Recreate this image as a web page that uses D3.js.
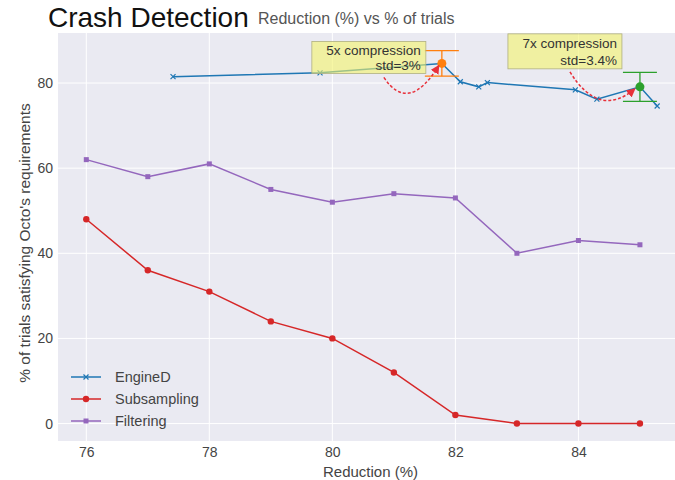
<!DOCTYPE html>
<html><head><meta charset="utf-8">
<script src="https://cdn.jsdelivr.net/npm/d3@7"></script>
<style>body{margin:0;background:#fff}svg{display:block;font-family:"Liberation Sans",Arial,sans-serif}</style>
</head><body><svg id="c" width="675" height="480"></svg>
<script>
const xTicks = [76, 78, 80, 82, 84];
const yTicks = [0, 20, 40, 60, 80];
const reduction = [76, 77, 78, 79, 80, 81, 82, 83, 84, 85];
const subsampling = [48, 36, 31, 24, 20, 12, 2, 0, 0, 0];
const filtering = [62, 58, 61, 55, 52, 54, 53, 40, 43, 42];
const engineDX = [77.41, 79.8, 81.78, 82.08, 82.38, 82.52, 83.95, 84.30, 85.0, 85.28];
const engineDY = [81.5, 82.4, 84.6, 80.3, 79.1, 80.1, 78.4, 76.2, 79.1, 74.6];
const annotLines = [["5x compression", "std=3%"], ["7x compression", "std=3.4%"]];
const annotX = [81.78, 85.0];
const annotY = [84.6, 79.1];
const annotStd = [3, 3.4];
const seriesNames = ["EngineD", "Subsampling", "Filtering"];

const C = {blue:"#1f77b4", red:"#d62728", purple:"#9467bd", orange:"#ff7f0e", green:"#2ca02c"};
const svg = d3.select("#c");
const L = 58, R = 675, T = 33, B = 441;
const x = d3.scaleLinear().domain([75.54, 85.57]).range([L, R]);
const y = d3.scaleLinear().domain([-4.1, 91.75]).range([B, T]);

svg.append("rect").attr("x", L).attr("y", T).attr("width", R - L).attr("height", B - T).attr("fill", "#eaeaf2");
const g = svg.append("g");
g.selectAll(".gx").data(xTicks).join("line").attr("x1", d => x(d)).attr("x2", d => x(d)).attr("y1", T).attr("y2", B).attr("stroke", "#fff").attr("stroke-width", 1);
g.selectAll(".gy").data(yTicks).join("line").attr("y1", d => y(d)).attr("y2", d => y(d)).attr("x1", L).attr("x2", R).attr("stroke", "#fff").attr("stroke-width", 1);

// axes
const xa = svg.append("g").attr("transform", `translate(0,${B})`).call(d3.axisBottom(x).tickValues(xTicks).tickSize(0).tickPadding(6));
const ya = svg.append("g").attr("transform", `translate(${L},0)`).call(d3.axisLeft(y).tickValues(yTicks).tickSize(0).tickPadding(5));
[xa, ya].forEach(a => { a.select(".domain").remove(); a.selectAll("text").attr("font-size", 14).attr("fill", "#444").attr("font-family", "Liberation Sans, Arial, sans-serif"); });

svg.append("text").attr("x", (L + R) / 2 + 4).attr("y", 477).attr("text-anchor", "middle").attr("font-size", 15).attr("fill", "#444").text("Reduction (%)");
svg.append("text").attr("transform", `translate(30,243) rotate(-90)`).attr("text-anchor", "middle").attr("font-size", 15.5).attr("fill", "#444").text("% of trials satisfying Octo's requirements");

svg.append("text").attr("x", 48).attr("y", 27).attr("font-size", 28).attr("fill", "#111").text("Crash Detection");
svg.append("text").attr("x", 258).attr("y", 24).attr("font-size", 16).attr("fill", "#555").text("Reduction (%) vs % of trials");

const line = d3.line();
// Filtering
g.append("path").attr("d", line(reduction.map((r, i) => [x(r), y(filtering[i])]))).attr("fill", "none").attr("stroke", C.purple).attr("stroke-width", 1.5);
g.selectAll(".fm").data(reduction).join("rect").attr("x", (d) => x(d) - 2.5).attr("y", (d, i) => y(filtering[i]) - 2.5).attr("width", 5).attr("height", 5).attr("fill", C.purple);
// Subsampling
g.append("path").attr("d", line(reduction.map((r, i) => [x(r), y(subsampling[i])]))).attr("fill", "none").attr("stroke", C.red).attr("stroke-width", 1.5);
g.selectAll(".sm").data(reduction).join("circle").attr("cx", d => x(d)).attr("cy", (d, i) => y(subsampling[i])).attr("r", 3.2).attr("fill", C.red);
// EngineD
g.append("path").attr("d", line(engineDX.map((v, i) => [x(v), y(engineDY[i])]))).attr("fill", "none").attr("stroke", C.blue).attr("stroke-width", 1.5);
function xMark(sel, cx, cy, s, col) {
  sel.append("path").attr("d", `M${cx - s},${cy - s}L${cx + s},${cy + s}M${cx - s},${cy + s}L${cx + s},${cy - s}`).attr("stroke", col).attr("stroke-width", 1.2);
}
engineDX.forEach((v, i) => xMark(g, x(v), y(engineDY[i]), 2.5, C.blue));

// error bars + highlighted points
const aCol = [C.orange, C.green];
annotX.forEach((v, i) => {
  const px = x(v), top = y(annotY[i] + annotStd[i]), bot = y(annotY[i] - annotStd[i]);
  g.append("line").attr("x1", px).attr("x2", px).attr("y1", top).attr("y2", bot).attr("stroke", aCol[i]).attr("stroke-width", 1.3);
  [top, bot].forEach(yy => g.append("line").attr("x1", px - 17).attr("x2", px + 17).attr("y1", yy).attr("y2", yy).attr("stroke", aCol[i]).attr("stroke-width", 1.3));
  g.append("circle").attr("cx", px).attr("cy", y(annotY[i])).attr("r", 4.5).attr("fill", aCol[i]);
});

// annotation arrows & boxes (layout offsets relative to the annotated point)
const boxOff = [{l: -130, r: -16, t: -22, b: 10, ty1: -8.5, ty2: 7}, {l: -132, r: -18, t: -53, b: -18, ty1: -38.5, ty2: -22}];
const arrOff = [{sx: -58, sy: 14, cx: -33, cy: 51, ex: -3, ey: 2}, {sx: -70, sy: -15, cx: -41, cy: 32, ex: -5, ey: 2}];
svg.append("defs").append("marker").attr("id", "ah").attr("viewBox", "0 0 10 10").attr("refX", 9).attr("refY", 5)
  .attr("markerWidth", 6).attr("markerHeight", 6).attr("orient", "auto")
  .append("path").attr("d", "M0,0L10,5L0,10z").attr("fill", "#e8303a");
annotX.forEach((v, i) => {
  const px = x(v), py = y(annotY[i]), a = arrOff[i];
  g.append("path").attr("d", `M${px + a.sx},${py + a.sy}Q${px + a.cx},${py + a.cy} ${px + a.ex},${py + a.ey}`)
    .attr("fill", "none").attr("stroke", "#e8303a").attr("stroke-width", 1.5).attr("stroke-dasharray", "3,2").attr("marker-end", "url(#ah)");
});
annotX.forEach((v, i) => {
  const px = x(v), py = y(annotY[i]), o = boxOff[i];
  svg.append("rect").attr("x", px + o.l).attr("y", py + o.t).attr("width", o.r - o.l).attr("height", o.b - o.t)
    .attr("fill", "#f3f36a").attr("fill-opacity", 0.6).attr("stroke", "#b0b080").attr("stroke-width", 0.8);
  const tx = px + o.r - 5;
  svg.append("text").attr("x", tx).attr("y", py + o.ty1).attr("text-anchor", "end").attr("font-size", 13.5).attr("fill", "#333").text(annotLines[i][0]);
  svg.append("text").attr("x", tx).attr("y", py + o.ty2).attr("text-anchor", "end").attr("font-size", 13.5).attr("fill", "#333").text(annotLines[i][1]);
});

// legend
const lg = svg.append("g");
const lCol = [C.blue, C.red, C.purple];
seriesNames.forEach((n, i) => {
  const yy = 377 + i * 22;
  lg.append("line").attr("x1", 71).attr("x2", 101).attr("y1", yy).attr("y2", yy).attr("stroke", lCol[i]).attr("stroke-width", 1.5);
  if (i === 0) xMark(lg, 86, yy, 2.5, lCol[i]);
  else if (i === 1) lg.append("circle").attr("cx", 86).attr("cy", yy).attr("r", 3.2).attr("fill", lCol[i]);
  else lg.append("rect").attr("x", 83.5).attr("y", yy - 2.5).attr("width", 5).attr("height", 5).attr("fill", lCol[i]);
  lg.append("text").attr("x", 115).attr("y", yy + 5).attr("font-size", 14.5).attr("fill", "#444").text(n);
});
</script></body></html>
